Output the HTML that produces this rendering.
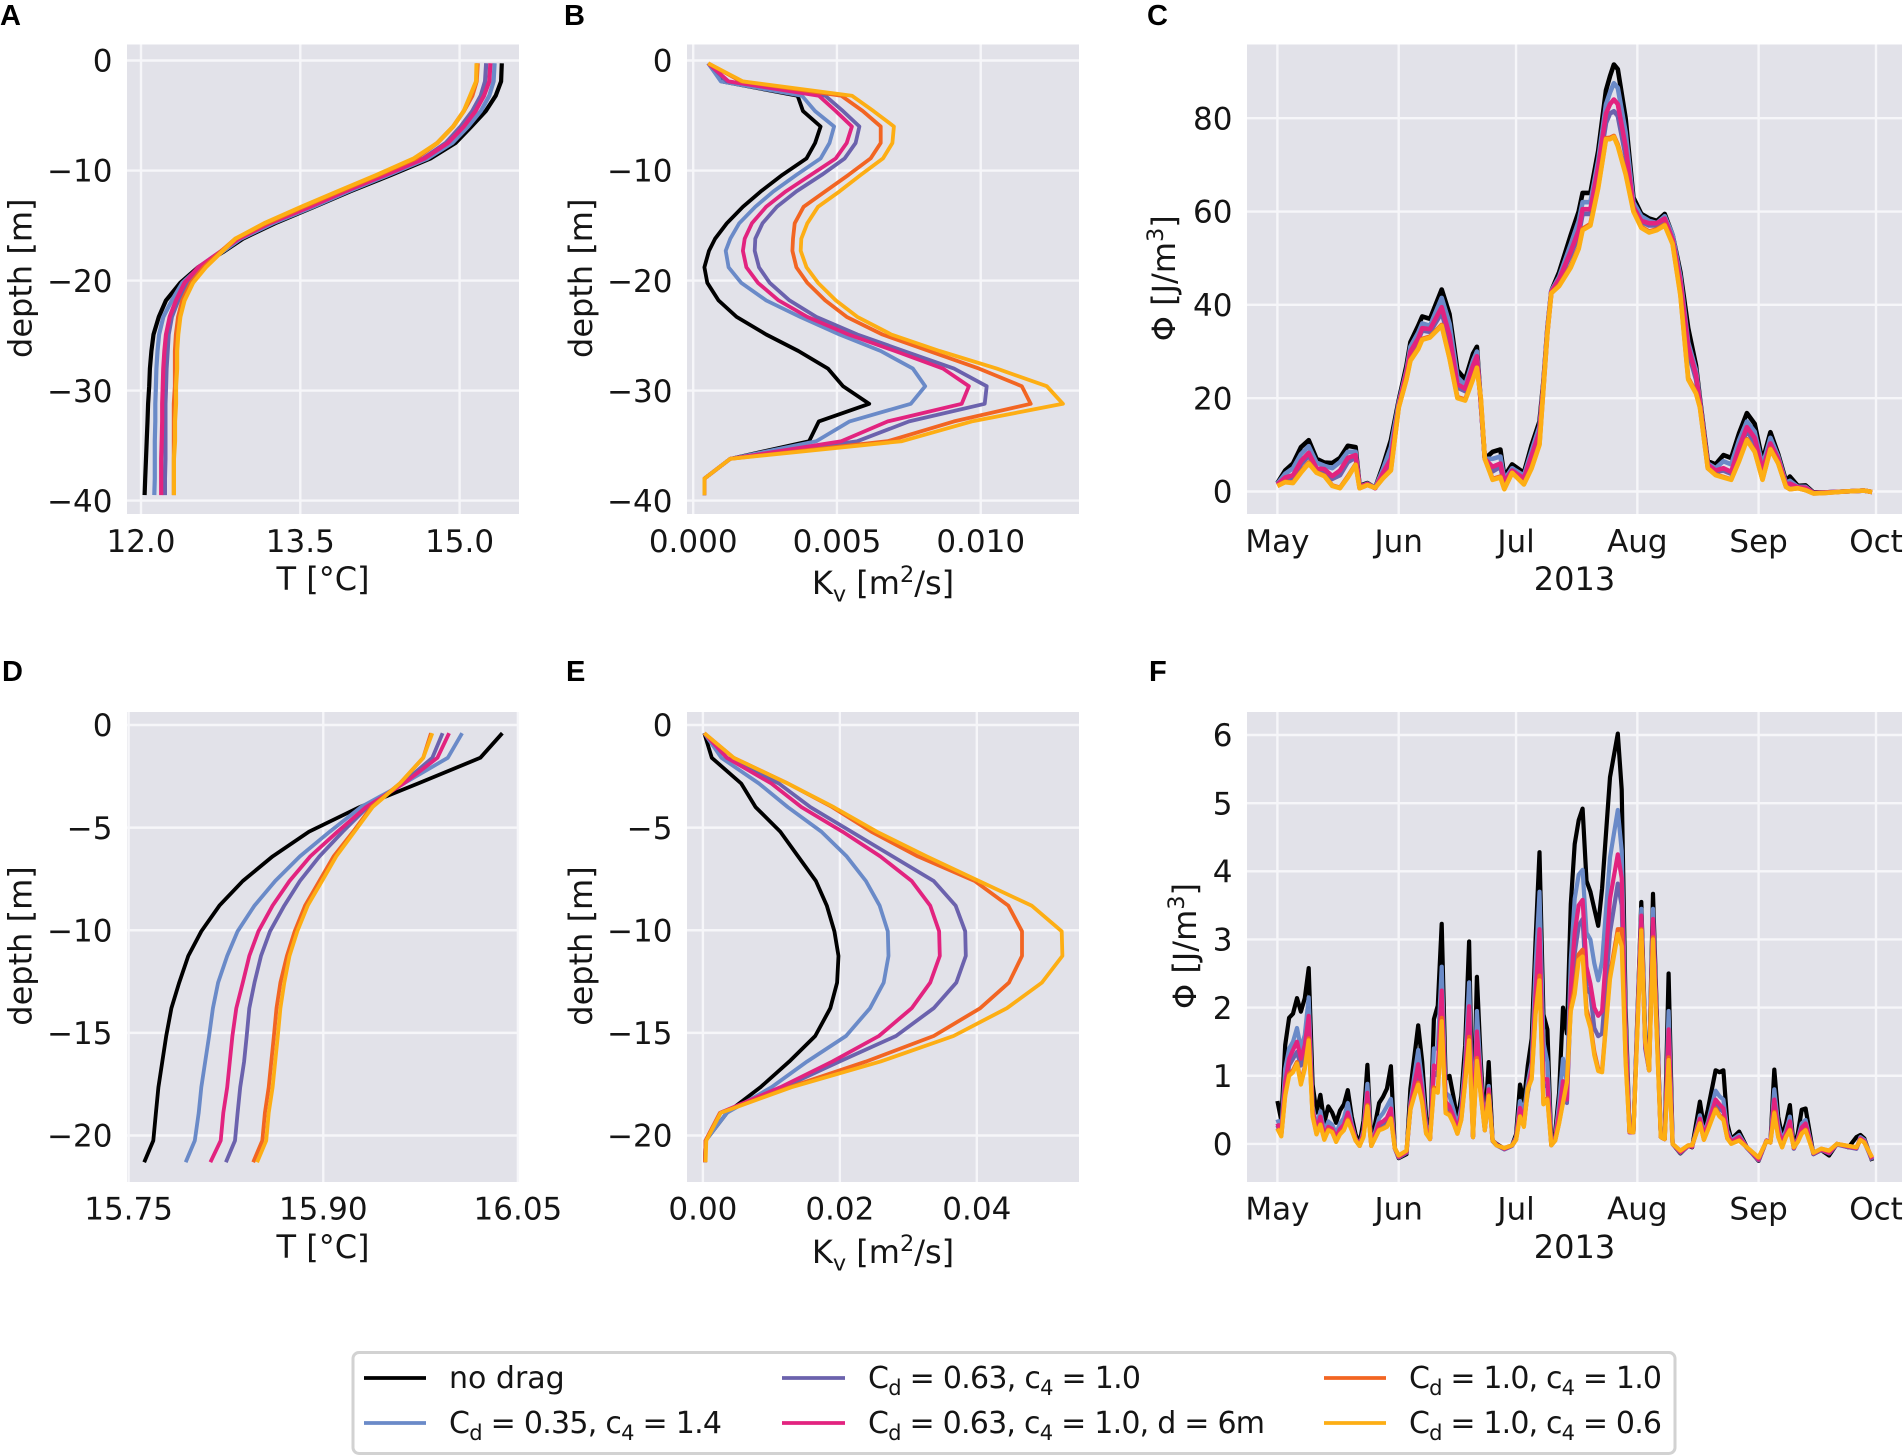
<!DOCTYPE html>
<html lang="en">
<head>
<meta charset="utf-8">
<title>Drag parameterisation profiles and dissipation</title>
<style>
html,body{margin:0;padding:0;background:#fff;}
svg{display:block;position:absolute;left:0;top:0;}
text{font-family:"DejaVu Sans","Liberation Sans",sans-serif;fill:#151515;}
.letter{font-family:"Liberation Sans",sans-serif;font-weight:bold;font-size:29px;fill:#000;}
.lg{font-size:30px;}
</style>
</head>
<body>
<svg id="figure" width="1904" height="1455" viewBox="0 0 1904 1455" xmlns="http://www.w3.org/2000/svg">
  <rect x="0" y="0" width="1904" height="1455" fill="#ffffff"/>
  <g id="panels"></g>
  <g>
    <rect x="353" y="1352.5" width="1322" height="101" rx="6" fill="#ffffff" stroke="#d2d2d2" stroke-width="3"/>
    <line x1="364" x2="426" y1="1378" y2="1378" stroke="#000000" stroke-width="3.8"/>
    <text class="lg" x="449" y="1388">no drag</text>
    <line x1="364" x2="426" y1="1423" y2="1423" stroke="#6a8ac8" stroke-width="3.8"/>
    <text class="lg" x="449" y="1433" textLength="273" lengthAdjust="spacing">C<tspan dy="7" font-size="21">d</tspan><tspan dy="-7"> = 0.35, c</tspan><tspan dy="7" font-size="21">4</tspan><tspan dy="-7"> = 1.4</tspan></text>
    <line x1="782" x2="845" y1="1378" y2="1378" stroke="#6b62ad" stroke-width="3.8"/>
    <text class="lg" x="868" y="1388" textLength="273" lengthAdjust="spacing">C<tspan dy="7" font-size="21">d</tspan><tspan dy="-7"> = 0.63, c</tspan><tspan dy="7" font-size="21">4</tspan><tspan dy="-7"> = 1.0</tspan></text>
    <line x1="782" x2="845" y1="1423" y2="1423" stroke="#e2237f" stroke-width="3.8"/>
    <text class="lg" x="868" y="1433" textLength="397" lengthAdjust="spacing">C<tspan dy="7" font-size="21">d</tspan><tspan dy="-7"> = 0.63, c</tspan><tspan dy="7" font-size="21">4</tspan><tspan dy="-7"> = 1.0, d = 6m</tspan></text>
    <line x1="1324" x2="1386" y1="1378" y2="1378" stroke="#f26522" stroke-width="3.8"/>
    <text class="lg" x="1409" y="1388" textLength="253" lengthAdjust="spacing">C<tspan dy="7" font-size="21">d</tspan><tspan dy="-7"> = 1.0, c</tspan><tspan dy="7" font-size="21">4</tspan><tspan dy="-7"> = 1.0</tspan></text>
    <line x1="1324" x2="1386" y1="1423" y2="1423" stroke="#fdae14" stroke-width="3.8"/>
    <text class="lg" x="1409" y="1433" textLength="253" lengthAdjust="spacing">C<tspan dy="7" font-size="21">d</tspan><tspan dy="-7"> = 1.0, c</tspan><tspan dy="7" font-size="21">4</tspan><tspan dy="-7"> = 0.6</tspan></text>
  </g>
</svg>
<script>
// ---------- shared series info ----------
const seriesNames = ['no-drag','cd035-c14','cd063-c10','cd063-c10-d6','cd10-c10','cd10-c06'];
const seriesColors = ['#000000','#6a8ac8','#6b62ad','#e2237f','#f26522','#fdae14'];
const monthLabels = ['May','Jun','Jul','Aug','Sep','Oct'];
const monthDays = [0,31,61,92,123,153];

// ---------- panel A: temperature profile ----------
const depthA = [-0.25,-1.9,-3.2,-4.6,-6,-7.5,-8.9,-10.4,-11.9,-13.3,-14.8,-16.2,-17.3,-18.8,-20.2,-21.8,-23.3,-24.9,-26.4,-28,-29.6,-31.2,-32.8,-34.6,-36.2,-38,-39.5];
const tempA0 = [15.397,15.391,15.34,15.246,15.111,14.96,14.725,14.355,13.968,13.631,13.261,12.959,12.79,12.538,12.37,12.235,12.168,12.118,12.098,12.084,12.077,12.067,12.061,12.054,12.047,12.04,12.034];
const tempA1 = [15.33,15.32,15.28,15.2,15.08,14.93,14.7,14.33,13.95,13.62,13.24,12.94,12.78,12.55,12.39,12.29,12.21,12.17,12.155,12.145,12.14,12.135,12.135,12.13,12.13,12.13,12.125];
const tempA2 = [15.25,15.24,15.2,15.12,15.01,14.87,14.66,14.3,13.91,13.58,13.2,12.91,12.76,12.54,12.43,12.35,12.29,12.26,12.25,12.24,12.235,12.23,12.23,12.23,12.23,12.225,12.225];
const tempA3 = [15.29,15.28,15.23,15.15,15.04,14.89,14.67,14.3,13.92,13.59,13.21,12.92,12.76,12.54,12.41,12.33,12.27,12.235,12.22,12.21,12.205,12.2,12.2,12.195,12.19,12.19,12.19];
const tempA4 = [15.17,15.16,15.12,15.04,14.94,14.79,14.59,14.24,13.87,13.53,13.18,12.89,12.76,12.59,12.47,12.39,12.35,12.33,12.32,12.32,12.32,12.31,12.31,12.31,12.31,12.31,12.31];
const tempA5 = [15.16,15.155,15.1,15.04,14.94,14.79,14.57,14.22,13.85,13.51,13.16,12.89,12.77,12.61,12.49,12.41,12.37,12.35,12.34,12.34,12.33,12.33,12.32,12.32,12.31,12.31,12.31];
const xTicksA = [12.0,13.5,15.0];
const xTickLabelsA = ['12.0','13.5','15.0'];
const yTicksProfile40 = [0,-10,-20,-30,-40];
const yTickLabels40 = ['0','\u221210','\u221220','\u221230','\u221240'];

// ---------- panel B: diffusivity profile ----------
const kvB0 = [.00052,.00098,.00363,.00382,.00443,.00424,.00394,.0031,.00235,.00173,.00117,.00076,.00055,.00039,.00049,.00088,.00151,.00254,.00366,.00469,.00521,.00612,.00437,.00403,.00129,.00039,.00039];
const kvB1 = [.00052,.00096,.00378,.00424,.0049,.00474,.00443,.00359,.00279,.00216,.0016,.00129,.00113,.00123,.00167,.00254,.00372,.00509,.00652,.00764,.00807,.00757,.00544,.00428,.00129,.00039,.00039];
const kvB2 = [.00052,.00117,.00459,.00521,.00578,.00565,.00527,.00447,.00359,.00291,.00241,.00216,.00214,.00229,.00266,.00335,.00428,.00571,.00733,.00907,.01021,.01014,.00751,.00571,.00129,.00039,.00039];
const kvB3 = [.00052,.00123,.00437,.00496,.00552,.00534,.00496,.00409,.00322,.00254,.00204,.00179,.00173,.00185,.00225,.00297,.00397,.00540,.00702,.00869,.00959,.00934,.00677,.00515,.00129,.00039,.00039];
const kvB4 = [.00052,.00167,.00515,.0059,.00652,.00652,.00617,.0054,.00459,.00384,.00353,.00347,.00345,.00359,.00397,.00459,.00534,.00658,.0082,.00994,.01143,.01174,.00907,.00677,.00129,.00039,.00039];
const kvB5 = [.00052,.00173,.00552,.00627,.00698,.00693,.0066,.00583,.00509,.00434,.00397,.00376,.00374,.00394,.00434,.00496,.00571,.00689,.00857,.01056,.0123,.01286,.00969,.00726,.00129,.00039,.00039];
const xTicksB = [0,0.005,0.01];
const xTickLabelsB = ['0.000','0.005','0.010'];

// ---------- panel C: dissipation time series ----------
const daysC = [0,2,4,6,8,10,12,14,16,18, 20,21,23,25,27,29,31,33,34,36, 37,39,42,44,46,48,50,51,52,53, 55,57,58,60,63,65,67,68,69,70, 72,75,77,78,80,82,84,85,86,87, 89,91,93,95,97,99,101,103,105,107, 108,110,112,114,116,118,120,122,124,126, 128,130,131,133,135,137,140,145,150,152];
const phiC0 = [1.8,4.5,6,9.5,11,7,6.2,6.1,7.2,9.8, 9.5,1.2,1.8,.8,5.5,11,19.5,27,32,35.5, 37.5,37,43.3,38,26,24,29.5,31,19,7, 8.5,9,3.2,5.8,4,10,15,23.5,35,43, 47,55,60,64,64,73,86,89,91.5,90.5, 80,63,59.5,58.5,58,59.5,55,47,35,27, 20,6.5,5.8,7.8,7.2,12.5,16.8,14.5,6.5,12.7, 8,2.2,3.2,1.2,1.3,-.2,-.2,0,.2,-.1];
const phiC1 = [1.7,3.8,5,8,9.7,6.2,5.5,5,6.3,8.5, 8.5,1,1.7,.8,4.8,9.5,19,26,31,34, 36,35.5,41.5,36,24.5,22.8,28,30,19,7, 7,7.5,2.5,5,3.4,8.8,14,23,35,43, 46,53,58,62,62,71,83,85.5,87.5,86.5, 77,62,59,58,57.5,59,55,46,32,26, 19.5,6,5,6.5,5.8,11,15,12.8,5.5,11.5, 7.5,1.8,2.3,1,1,-.3,-.2,0,.2,-.1];
const phiC2 = [1.4,2.7,3,5.8,7.7,4.8,4.3,2.7,3.5,6.3, 7.3,.9,1.6,.7,3.7,6.6,18.3,25,29.6,32.5, 34.5,34.2,38.3,32.5,22.3,21.5,26.5,28.5,19.3,7, 4.3,5.3,1.5,4.4,2.5,7.2,12,22.5,34.3,42.6, 45.3,50.8,55,59.5,59.5,68.5,79,81,81.5,80.5, 72,60.5,57.8,57,57,58,54,44.5,30,24, 18.8,5.6,4.2,4.5,3.8,8.8,13,10.5,4,10, 6.8,1.3,1.4,.8,.6,-.3,-.2,0,.2,-.1];
const phiC3 = [1.5,3,3.5,6.5,8.3,5,4.8,3.3,4.5,7.2, 7.8,1,1.6,.7,4,7,18.5,25.5,30,32.8, 35,34.8,39.5,33.5,23,22,27,29,19,7, 5.3,6,2,4.5,2.8,7.8,12.8,22.8,34.5,42.8, 45.5,51.5,56,60.5,60.5,69.5,81,83,84,83, 74,61,58,57.5,57.5,58.5,54,45,31,25, 19,5.8,4.5,5,4.2,9.5,13.8,11.5,4.5,10.3, 7,1.5,1.7,.9,.8,-.3,-.2,0,.2,-.1];
const phiC4 = [1.2,2.1,1.9,4.2,6.2,4.1,3.4,1.3,.8,3.2, 5.8,.7,1.4,.8,2.9,4.7,18,24.2,28.2,30.7, 32.7,33.2,35.7,28.7,20.2,19.7,24.2,26.6,20,7, 2.7,3.2,.6,4,1.6,5.2,10.2,22,34,42.5, 44.2,48.3,52.3,56.3,57.3,65.3,75.7,75.8,76.2,74.3, 68.3,60.3,56.7,55.7,56.2,57.2,53.2,42.3,24.3,21.2, 18.2,5,3.6,3.1,2.6,6.7,11.2,8.7,2.6,9.2, 6.1,1,.5,.7,.3,-.4,-.3,0,.2,-.1];
const phiC5 = [1.2,2,1.8,4,6,4,3.3,1.2,.7,3, 5.7,.7,1.4,.8,2.8,4.5,18,24,28,30.5, 32.5,33,35.5,28.5,20,19.5,24,26.5,20,7, 2.5,3,.5,4,1.5,5,10,22,34,42.5, 44,48,52,56,57,65,75.5,75.5,76,74, 68,60,56.5,55.5,56,57,53,42,24,21, 18,5,3.5,3,2.5,6.5,11,8.5,2.5,9, 6,1,.5,.7,.3,-.4,-.3,0,.2,-.1];
const yTicksC = [0,20,40,60,80];
const yTickLabelsC = ['0','20','40','60','80'];

// ---------- panel D: temperature profile ----------
const depthD = [-0.4,-1.6,-2.85,-4,-5.2,-6.4,-7.6,-8.8,-10.05,-11.25,-12.55,-13.8,-15.15,-16.4,-17.65,-18.9,-20.25,-21.3];
const tempD0 = [16.038,16.021,15.973,15.928,15.889,15.861,15.838,15.82,15.806,15.796,15.789,15.783,15.779,15.776,15.773,15.771,15.769,15.762];
const tempD1 = [16.007,15.996,15.962,15.929,15.905,15.882,15.863,15.847,15.834,15.826,15.819,15.815,15.812,15.809,15.806,15.804,15.801,15.794];
const tempD2 = [15.992,15.984,15.961,15.934,15.915,15.897,15.882,15.87,15.859,15.852,15.847,15.843,15.841,15.839,15.836,15.834,15.832,15.825];
const tempD3 = [15.997,15.988,15.962,15.933,15.911,15.89,15.874,15.861,15.85,15.843,15.838,15.833,15.83,15.828,15.826,15.823,15.821,15.813];
const tempD4 = [15.983,15.977,15.959,15.937,15.923,15.908,15.897,15.886,15.878,15.872,15.867,15.864,15.862,15.86,15.858,15.855,15.853,15.846];
const tempD5 = [15.984,15.977,15.959,15.938,15.924,15.91,15.899,15.888,15.88,15.874,15.87,15.867,15.865,15.863,15.861,15.858,15.856,15.849];
const xTicksD = [15.75,15.90,16.05];
const xTickLabelsD = ['15.75','15.90','16.05'];
const yTicksProfile20 = [0,-5,-10,-15,-20];
const yTickLabels20 = ['0','\u22125','\u221210','\u221215','\u221220'];

// ---------- panel E: diffusivity profile ----------
const kvE0 = [.0002,.0013,.0056,.0077,.0113,.0139,.0165,.0181,.0192,.0198,.0196,.0186,.0164,.0126,.0084,.0035,.0004,.0003];
const kvE1 = [.0002,.0027,.0082,.0124,.0173,.021,.0238,.0258,.027,.0271,.0264,.0244,.0209,.0152,.01,.0035,.0004,.0003];
const kvE2 = [.0002,.0035,.0111,.0157,.0217,.0277,.0337,.0369,.0383,.0384,.037,.0337,.0282,.0199,.0118,.0025,.0004,.0003];
const kvE3 = [.0002,.0035,.01,.0144,.0204,.0259,.0305,.0332,.0345,.0346,.0332,.0305,.0257,.0189,.0113,.0025,.0004,.0003];
const kvE4 = [.0002,.0045,.0124,.0189,.0246,.0314,.0397,.0446,.0466,.0466,.0447,.0405,.0337,.0238,.0126,.0025,.0004,.0003];
const kvE5 = [.0002,.0045,.0124,.0191,.0254,.0327,.0403,.048,.0524,.0525,.0495,.0444,.0366,.0259,.0129,.0026,.0005,.0004];
const xTicksE = [0,0.02,0.04];
const xTickLabelsE = ['0.00','0.02','0.04'];

// ---------- panel F: dissipation time series ----------
const daysF = [0,1,2,3,4,5,6,7,8,9, 10,11,12,13,14,15,16,17,18,19, 20,21,22,23,24,26,27,28,29,30, 31,33,34,35,36,37,38,39,40,41, 42,43,44,45,46,47,48,49,50,51, 52,53,54,55,56,58,60,61,62,63, 64,65,66,67,68,69,70,71,72,73, 74,75,76,77,78,79,80,81,82,83, 85,87,88,89,90,91,93,94,95,96, 98,99,100,101,103,105,106,108,109,110, 112,113,114,115,116,118,120,123,125,126, 127,128,129,130,131,132,133,134,135,137, 139,141,143,146,148,149,150,152];
const phiF0 = [.63,.34,1.45,1.85,1.91,2.14,1.94,2.14,2.58,.87, .46,.72,.31,.55,.46,.31,.49,.58,.79,.4, .14,0,.34,1.16,0,.6,.69,.81,1.14,-.06, -.21,-.15,.81,1.27,1.74,1.2,.4,.08,1.83,2.03, 3.23,.95,1,.69,.34,.7,1.45,2.97,.11,2.45, 1.2,.23,1.2,.05,0,-.07,-.02,.14,.87,.63, 1.15,1.55,3,4.28,1.9,1.68,0,.17,.75,2, 1.62,3.52,4.4,4.75,4.92,3.86,3.7,3.45,3.2,3.75, 5.38,6.02,5.2,2,.18,.17,3.55,1.6,1.1,3.67, .1,.07,2.5,0,-.14,-.03,-.05,.62,.25,.5, 1.08,1.05,1.08,.3,.07,.18,-.05,-.25,.05,.02, 1.09,.4,.11,.3,.57,-.05,.15,.5,.52,-.15, -.09,-.17,0,-.05,.1,.13,.08,-.25];
const phiF1 = [.36,.2,1.1,1.4,1.5,1.7,1.4,1.6,2.15,.55, .25,.48,.18,.33,.28,.15,.3,.38,.6,.3, .08,-.02,.2,.88,-.02,.38,.45,.55,.66,-.06, -.2,-.13,.6,1,1.38,.9,.28,.08,1.4,1.4, 2.6,.75,.7,.5,.25,.55,1.2,2.37,.1,1.95, 1,.22,.85,.05,-.01,-.07,-.02,.1,.63,.45, .9,1.2,2.6,3.7,1.5,1.2,-.01,.1,.6,1.25, .9,2.7,3.6,3.95,4.02,3.1,3,2.65,2.4,2.68, 4.2,4.9,4.3,1.8,.17,.17,3.45,1.5,1.08,3.45, .1,.07,1.95,0,-.13,-.03,-.04,.42,.15,.32, .78,.7,.65,.2,.05,.13,-.05,-.24,.05,.02, .8,.28,.05,.2,.4,-.07,.08,.3,.35,-.14, -.08,-.14,0,-.04,-.07,.1,.06,-.23];
const phiF2 = [.27,.13,.8,1.15,1.25,1.35,1.15,1.3,1.7,.47, .18,.36,.1,.23,.2,.08,.2,.26,.42,.24, .06,-.03,.14,.68,-.03,.27,.3,.33,.46,-.07, -.2,-.13,.5,.8,1.05,.7,.2,.07,1.05,1, 2.05,.58,.5,.35,.18,.42,1,1.85,.1,1.5, .85,.2,.75,.04,-.02,-.08,-.03,.07,.5,.32, .75,1.05,2,2.9,.85,.85,-.02,.07,.42,.82, .6,2.1,2.8,3.2,3.3,2.3,2.2,1.7,1.58,1.62, 3.1,3.82,3.5,1.5,.17,.17,3.3,1.4,1.08,3.2, .1,.07,1.55,0,-.13,-.03,-.04,.35,.1,.25, .6,.52,.47,.13,.03,.08,-.06,-.24,.05,.02, .58,.17,.02,.13,.3,-.07,.05,.2,.27,-.15, -.09,-.14,-.01,-.05,-.07,.07,.03,-.24];
const phiF3 = [.3,.15,.9,1.25,1.38,1.5,1.25,1.45,1.88,.5, .2,.4,.12,.25,.22,.1,.22,.28,.46,.26, .07,-.02,.16,.75,-.02,.3,.33,.38,.52,-.06, -.19,-.12,.55,.87,1.17,.75,.22,.07,1.15,1.1, 2.25,.62,.55,.4,.2,.45,1.05,2.02,.1,1.65, .9,.21,.8,.05,-.01,-.07,-.02,.08,.53,.35, .8,1.1,2.2,3.15,.95,.95,-.01,.08,.45,.92, .65,2.3,3.1,3.5,3.58,2.6,2.35,2,1.88,1.95, 3.6,4.25,3.9,1.6,.17,.17,3.35,1.45,1.08,3.3, .1,.07,1.68,0,-.12,-.03,-.04,.37,.12,.28, .65,.58,.52,.15,.03,.1,-.05,-.23,.05,.02, .65,.2,.03,.15,.33,-.06,.06,.24,.3,-.14, -.08,-.13,0,-.04,-.06,.08,.04,-.22];
const phiF4 = [.23,.12,.72,1.03,1.08,1.2,.9,1.13,1.55,.42, .15,.29,.07,.21,.18,.04,.15,.21,.36,.21, .05,-.03,.11,.57,-.03,.21,.23,.26,.38,-.06, -.17,-.1,.52,.72,.9,.62,.16,.07,.83,.78, 1.85,.47,.44,.31,.15,.36,.92,1.57,.1,1.26, .72,.2,.72,.05,-.02,-.06,-.02,.06,.41,.26, .82,.98,1.95,2.47,.6,.67,-.02,.05,.31,.62, .92,2,2.3,2.78,2.85,1.98,1.75,1.35,1.1,1.08, 2.48,3.15,3.15,1.25,.18,.17,3.15,1.5,1.08,3.03, .1,.07,1.27,0,-.1,-.02,-.02,.31,.06,.21, .52,.42,.37,.08,.01,.05,-.05,-.2,.04,.02, .47,.11,-.05,.11,.21,-.05,.03,.16,.21,-.13, -.07,-.1,0,-.03,-.05,.06,.02,-.2];
const phiF5 = [.22,.11,.7,1,1.05,1.18,.87,1.1,1.52,.4, .14,.28,.06,.2,.17,.03,.14,.2,.34,.2, .05,-.03,.1,.55,-.03,.2,.22,.25,.37,-.06, -.17,-.1,.5,.7,.87,.6,.15,.07,.8,.75, 1.8,.45,.42,.3,.15,.35,.9,1.52,.1,1.22, .7,.2,.7,.05,-.02,-.06,-.02,.06,.4,.25, .8,.95,1.9,2.4,.58,.65,-.02,.05,.3,.6, .9,1.95,2.2,2.7,2.75,1.9,1.7,1.3,1.07,1.05, 2.42,3.08,2.9,1.2,.18,.17,3.13,1.5,1.08,3, .1,.07,1.23,0,-.1,-.02,-.02,.3,.06,.2, .5,.4,.35,.08,0,.05,-.05,-.2,.04,.02, .45,.1,-.05,.1,.2,-.05,.03,.15,.2,-.13, -.07,-.1,0,-.03,-.05,.06,.02,-.2];
const yTicksF = [0,1,2,3,4,5,6];
const yTickLabelsF = ['0','1','2','3','4','5','6'];

// ---------- drawing ----------
const SVGNS = 'http://www.w3.org/2000/svg';
const panelsRoot = document.getElementById('panels');
const TICK_FONT = 31;
const TITLE_FONT = 32;

function linearScale(d0, d1, r0, r1) {
  return function (v) { return r0 + (v - d0) * (r1 - r0) / (d1 - d0); };
}
function make(tag, parent, attrs) {
  const node = document.createElementNS(SVGNS, tag);
  for (const k in attrs) node.setAttribute(k, attrs[k]);
  parent.appendChild(node);
  return node;
}
function addRich(parent, parts, size) {
  // parts: [text, shift] where shift is 0 (normal), 1 (super), -1 (sub)
  let current = 0;
  parts.forEach(function (p) {
    const shift = p[1];
    const target = shift === 1 ? -size * 0.38 : shift === -1 ? size * 0.24 : 0;
    const ts = make('tspan', parent, { dy: (target - current).toFixed(1) });
    if (shift !== 0) ts.setAttribute('font-size', (size * 0.7).toFixed(1));
    ts.textContent = p[0];
    current = target;
  });
}

function drawPanel(p) {
  const g = make('g', panelsRoot, {});
  
  

  const bg = make('rect', g, { x: p.left, y: p.top, width: p.right - p.left, height: p.bottom - p.top, fill: '#e2e2e9' });
  
  

  p.xTicks.forEach(function (v, i) {
    const px = p.xScale(v);
    const gl = make('line', g, { x1: px, x2: px, y1: p.top, y2: p.bottom, stroke: '#f6f6f9', 'stroke-width': 2.4 });
    
    
    const lb = make('text', g, { x: px, y: p.xTickY, 'text-anchor': 'middle', 'font-size': TICK_FONT });
    
    
    lb.textContent = p.xLabels[i];
  });
  p.yTicks.forEach(function (v, i) {
    const py = p.yScale(v);
    const gl = make('line', g, { x1: p.left, x2: p.right, y1: py, y2: py, stroke: '#f6f6f9', 'stroke-width': 2.4 });
    
    
    const lb = make('text', g, { x: p.left - 14.5, y: py + 11.2, 'text-anchor': 'end', 'font-size': TICK_FONT });
    
    
    lb.textContent = p.yLabels[i];
  });

  p.series.forEach(function (vals, i) {
    const pts = vals.map(function (v, j) {
      const xv = p.horizontal ? p.index[j] : v;
      const yv = p.horizontal ? v : p.index[j];
      return p.xScale(xv).toFixed(1) + ',' + p.yScale(yv).toFixed(1);
    }).join(' ');
    const line = make('polyline', g, { points: pts, fill: 'none', stroke: seriesColors[i], 'stroke-width': p.lw, 'stroke-linejoin': 'round', 'stroke-linecap': 'butt' });
    
    
  });

  const xt = make('text', g, { x: (p.left + p.right) / 2, y: p.xTitleY, 'text-anchor': 'middle', 'font-size': TITLE_FONT });
  
  
  addRich(xt, p.xTitle, TITLE_FONT);

  const cy = (p.top + p.bottom) / 2 - 1;
  const yt = make('text', g, { x: p.yTitleX, y: cy, 'text-anchor': 'middle', 'font-size': TITLE_FONT, transform: 'rotate(-90 ' + p.yTitleX + ' ' + cy + ')' });
  
  
  addRich(yt, p.yTitle, TITLE_FONT);

  const letter = make('text', g, { x: p.letterX, y: p.letterY, 'class': 'letter' });
  
  
  letter.textContent = p.id.toUpperCase();
}

const TOP1 = 44.5, BOT1 = 514, TOP2 = 712, BOT2 = 1182;
const tTitle = [['T [\u00B0C]', 0]];
const kTitle = [['K', 0], ['v', -1], [' [m', 0], ['2', 1], ['/s]', 0]];
const dTitle = [['depth [m]', 0]];
const yearTitle = [['2013', 0]];
const phiTitle = [['\u03A6 [J/m', 0], ['3', 1], [']', 0]];

drawPanel({ id: 'a', left: 127, right: 519, top: TOP1, bottom: BOT1, lw: 4.2, index: depthA, horizontal: false,
  series: [tempA0, tempA1, tempA2, tempA3, tempA4, tempA5],
  xScale: linearScale(12, 15, 141, 459.6), yScale: linearScale(0, -40, 60.5, 500.6),
  xTicks: xTicksA, xLabels: xTickLabelsA, yTicks: yTicksProfile40, yLabels: yTickLabels40,
  xTickY: 552, xTitleY: 590, yTitleX: 31.5, xTitle: tTitle, yTitle: dTitle, letterX: 0, letterY: 25 });

drawPanel({ id: 'b', left: 687, right: 1079, top: TOP1, bottom: BOT1, lw: 3.8, index: depthA, horizontal: false,
  series: [kvB0, kvB1, kvB2, kvB3, kvB4, kvB5],
  xScale: linearScale(0, 0.01, 693.2, 980.7), yScale: linearScale(0, -40, 60.5, 500.6),
  xTicks: xTicksB, xLabels: xTickLabelsB, yTicks: yTicksProfile40, yLabels: yTickLabels40,
  xTickY: 552, xTitleY: 594, yTitleX: 592, xTitle: kTitle, yTitle: dTitle, letterX: 564, letterY: 25 });

drawPanel({ id: 'c', left: 1247, right: 1902, top: TOP1, bottom: BOT1, lw: 4.6, index: daysC, horizontal: true,
  series: [phiC0, phiC1, phiC2, phiC3, phiC4, phiC5],
  xScale: linearScale(0, 153, 1277.4, 1876), yScale: linearScale(0, 80, 491.5, 118.2),
  xTicks: monthDays, xLabels: monthLabels, yTicks: yTicksC, yLabels: yTickLabelsC,
  xTickY: 552, xTitleY: 590, yTitleX: 1175, xTitle: yearTitle, yTitle: phiTitle, letterX: 1147, letterY: 25 });

drawPanel({ id: 'd', left: 127, right: 519, top: TOP2, bottom: BOT2, lw: 3.8, index: depthD, horizontal: false,
  series: [tempD0, tempD1, tempD2, tempD3, tempD4, tempD5],
  xScale: linearScale(15.75, 16.05, 128.6, 517.9), yScale: linearScale(0, -20, 725, 1135.5),
  xTicks: xTicksD, xLabels: xTickLabelsD, yTicks: yTicksProfile20, yLabels: yTickLabels20,
  xTickY: 1219.5, xTitleY: 1258, yTitleX: 31.5, xTitle: tTitle, yTitle: dTitle, letterX: 2, letterY: 681 });

drawPanel({ id: 'e', left: 687, right: 1079, top: TOP2, bottom: BOT2, lw: 3.8, index: depthD, horizontal: false,
  series: [kvE0, kvE1, kvE2, kvE3, kvE4, kvE5],
  xScale: linearScale(0, 0.04, 702.9, 976.8), yScale: linearScale(0, -20, 725, 1135.5),
  xTicks: xTicksE, xLabels: xTickLabelsE, yTicks: yTicksProfile20, yLabels: yTickLabels20,
  xTickY: 1219.5, xTitleY: 1263, yTitleX: 592, xTitle: kTitle, yTitle: dTitle, letterX: 566, letterY: 681 });

drawPanel({ id: 'f', left: 1247, right: 1902, top: TOP2, bottom: BOT2, lw: 4.2, index: daysF, horizontal: true,
  series: [phiF0, phiF1, phiF2, phiF3, phiF4, phiF5],
  xScale: linearScale(0, 153, 1277.4, 1876), yScale: linearScale(0, 6, 1143.9, 735),
  xTicks: monthDays, xLabels: monthLabels, yTicks: yTicksF, yLabels: yTickLabelsF,
  xTickY: 1219.5, xTitleY: 1258, yTitleX: 1196, xTitle: yearTitle, yTitle: phiTitle, letterX: 1149, letterY: 681 });
</script>
</body>
</html>
